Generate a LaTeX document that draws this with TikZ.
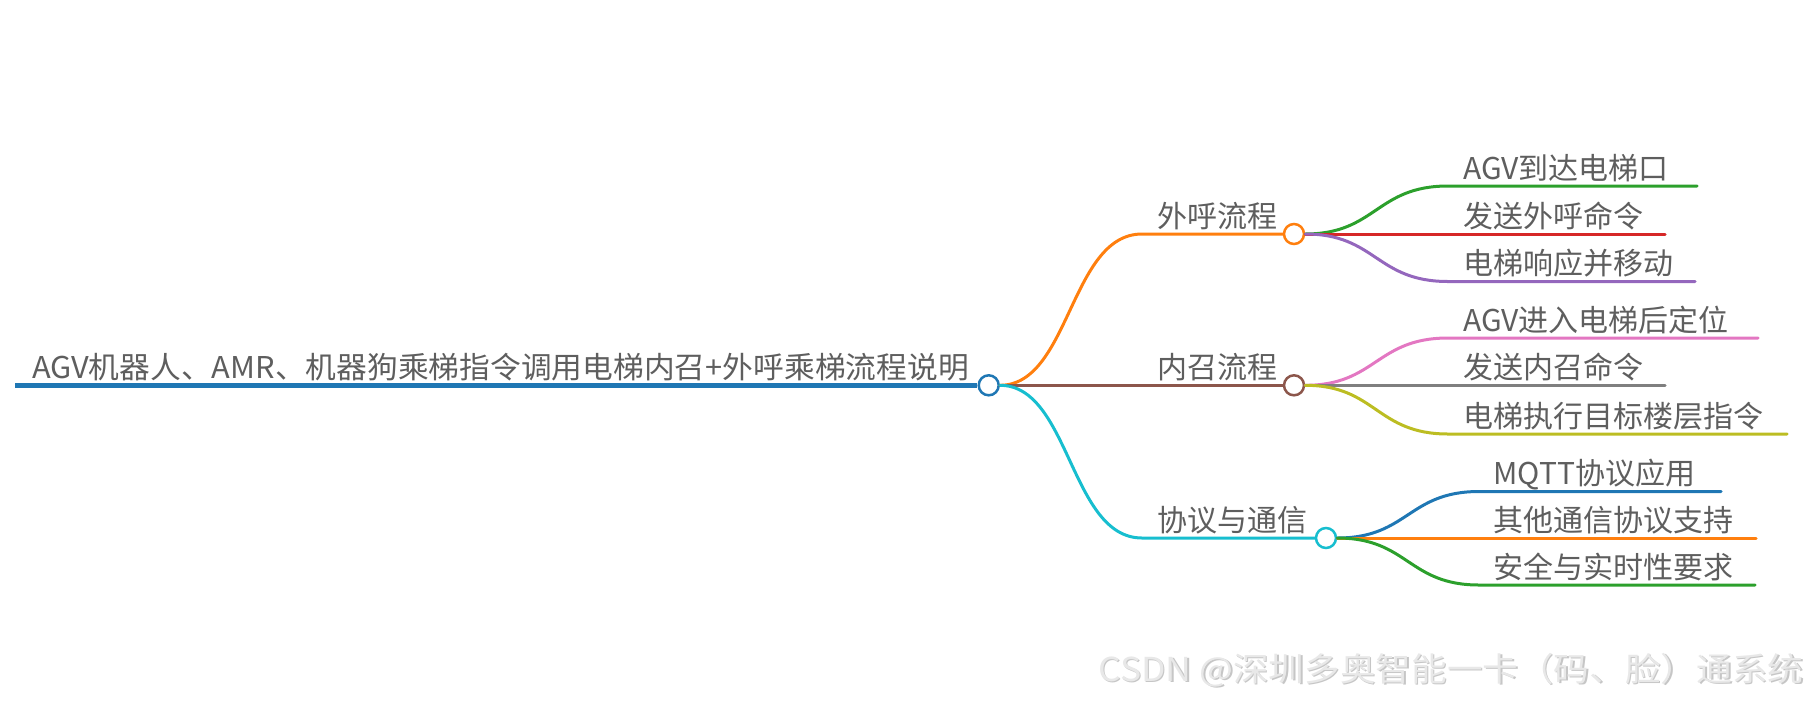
\documentclass[tikz,border=0pt]{standalone}
\usepackage{fontspec}
\setmainfont{Noto Sans CJK SC}
\definecolor{cblue}{HTML}{1F77B4}
\definecolor{corange}{HTML}{FF7F0E}
\definecolor{cgreen}{HTML}{2CA02C}
\definecolor{cred}{HTML}{D62728}
\definecolor{cpurple}{HTML}{9467BD}
\definecolor{cbrown}{HTML}{8C564B}
\definecolor{cpink}{HTML}{E377C2}
\definecolor{cgray}{HTML}{7F7F7F}
\definecolor{colive}{HTML}{BCBD22}
\definecolor{ccyan}{HTML}{17BECF}
\definecolor{textgray}{HTML}{5E5E5E}
\begin{document}
\begin{tikzpicture}[x=1pt,y=-1pt,
  txt/.style={font=\fontsize{30}{30}\selectfont, text=textgray, inner sep=0pt, anchor=base west},
  dot/.style={circle, draw, fill=white, line width=2.5pt, minimum size=20pt, inner sep=0pt},
  edge/.style={line width=3pt, line cap=round},
  wm/.style={font=\fontsize{33}{33}\selectfont, inner sep=0pt, anchor=base west}]
\useasboundingbox (0,0) rectangle (1809,705);
% root
\coordinate (r0) at (15,385.3);
\node[dot, draw=cblue] (r) at (988.7,385.3) {};
\draw[edge, cblue, line width=4.5pt, line cap=butt] (r0) -- (r.west);
\node[txt] (rt) at (32,378) {\scalebox{1.025}[1]{AGV机器人、AMR、机器狗乘梯指令调用电梯内召+外呼乘梯流程说明}};
% level 1
\node[dot, draw=corange] (a) at (1294,234) {};
\node[dot, draw=cbrown] (b) at (1294,385.3) {};
\node[dot, draw=ccyan] (c) at (1326,538) {};
\coordinate (a0) at (1142,234);
\coordinate (c0) at (1142,538);
\draw[edge, corange] (r.east) .. controls (1070,385.3) and (1070,234) .. (a0) -- (a.west);
\draw[edge, cbrown] (r.east) -- (b.west);
\draw[edge, ccyan] (r.east) .. controls (1070,385.3) and (1070,538) .. (c0) -- (c.west);
\node[txt] (at) at (1157,227) {外呼流程};
\node[txt] (bt) at (1157,378) {内召流程};
\node[txt] (ct) at (1157,531) {协议与通信};
% level 2: A
\coordinate (a1s) at (1448,186);   \coordinate (a1e) at (1697,186);
\coordinate (a2s) at (1448,234);   \coordinate (a2e) at (1665,234);
\coordinate (a3s) at (1448,281.5); \coordinate (a3e) at (1695,281.5);
\draw[edge, cgreen] (a.east) .. controls (1376,234) and (1376,186) .. (a1s) -- (a1e);
\draw[edge, cred] (a.east) -- (a2e);
\draw[edge, cpurple] (a.east) .. controls (1376,234) and (1376,281.5) .. (a3s) -- (a3e);
\node[txt] (a1) at (1463,179) {AGV到达电梯口};
\node[txt] (a2) at (1463,227) {发送外呼命令};
\node[txt] (a3) at (1463,274.5) {电梯响应并移动};
% level 2: B
\coordinate (b1s) at (1448,338);   \coordinate (b1e) at (1758,338);
\coordinate (b2s) at (1448,385.3); \coordinate (b2e) at (1665,385.3);
\coordinate (b3s) at (1448,434);   \coordinate (b3e) at (1787,434);
\draw[edge, cpink] (b.east) .. controls (1376,385.3) and (1376,338) .. (b1s) -- (b1e);
\draw[edge, cgray] (b.east) -- (b2e);
\draw[edge, colive] (b.east) .. controls (1376,385.3) and (1376,434) .. (b3s) -- (b3e);
\node[txt] (b1) at (1463,331) {AGV进入电梯后定位};
\node[txt] (b2) at (1463,378.3) {发送内召命令};
\node[txt] (b3) at (1463,427) {电梯执行目标楼层指令};
% level 2: C
\coordinate (c1s) at (1479,491.5); \coordinate (c1e) at (1721,491.5);
\coordinate (c2s) at (1479,538);   \coordinate (c2e) at (1756,538);
\coordinate (c3s) at (1479,585);   \coordinate (c3e) at (1755,585);
\draw[edge, cblue] (c.east) .. controls (1408,538) and (1408,491.5) .. (c1s) -- (c1e);
\draw[edge, corange] (c.east) -- (c2e);
\draw[edge, cgreen] (c.east) .. controls (1408,538) and (1408,585) .. (c3s) -- (c3e);
\node[txt] (c1) at (1493,484.5) {MQTT协议应用};
\node[txt] (c2) at (1493,531) {其他通信协议支持};
\node[txt] (c3) at (1493,578) {安全与实时性要求};
% watermark
\node[wm, text=gray!45] (wms) at (1099.5,682.5) {\scalebox{1.08}[1]{CSDN @深圳多奥智能一卡（码、脸）通系统}};
\node[wm, text=gray!18] (wmt) at (1098,681) {\scalebox{1.08}[1]{CSDN @深圳多奥智能一卡（码、脸）通系统}};
\end{tikzpicture}
\end{document}
